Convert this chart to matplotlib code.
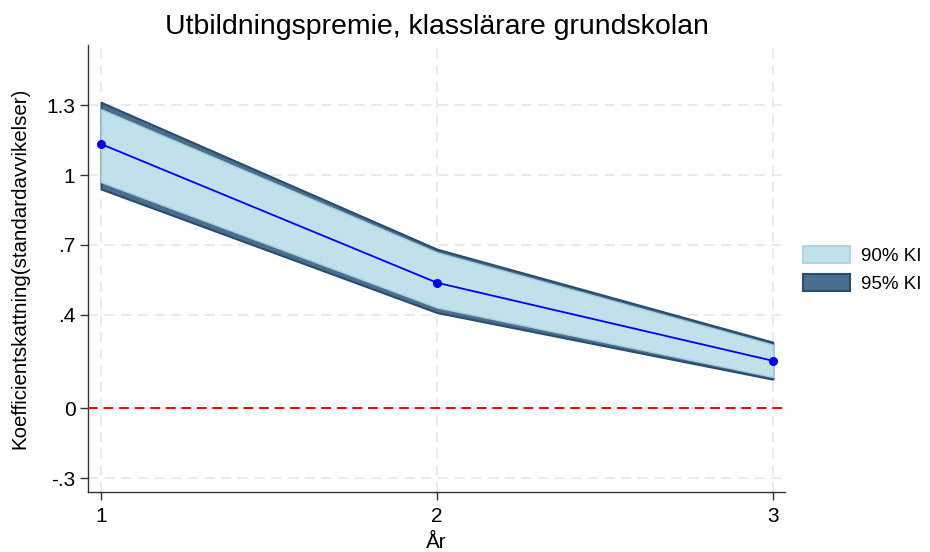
import numpy as np
import matplotlib.pyplot as plt
from matplotlib.patches import Patch

plt.rcParams['font.family'] = ['Liberation Sans', 'DejaVu Sans']

# estimates per year with 90% and 95% confidence bounds
years = [1, 2, 3]
coef = [1.133, 0.538, 0.203]
ci95_lo = [0.94, 0.41, 0.124]
ci95_hi = [1.312, 0.682, 0.283]
ci90_lo = [0.97, 0.432, 0.134]
ci90_hi = [1.282, 0.668, 0.272]

yticks = [-0.3, 0, 0.4, 0.7, 1, 1.3]
yticklabels = ["-.3", "0", ".4", ".7", "1", "1.3"]

dark_fill = "#4a6e8e"
dark_edge = "#2c4c6c"
light_fill = "#c0e0ea"
light_edge = "#a6d2e2"

fig = plt.figure(figsize=(9.3, 5.52), dpi=100)
ax = fig.add_axes([0.0946, 0.1087, 0.7494, 0.8098])

for y in yticks:
    ax.axhline(y, color="#e6e6e6", lw=1.2, ls=(0, (6, 4)), zorder=0)
for x in years:
    ax.axvline(x, color="#e6e6e6", lw=1.2, ls=(0, (6, 4)), zorder=0)

ax.fill_between(years, ci95_lo, ci95_hi, facecolor=dark_fill, edgecolor=dark_edge, lw=1.5, zorder=2)
ax.fill_between(years, ci90_lo, ci90_hi, facecolor=light_fill, edgecolor=light_edge, lw=1.0, zorder=3)
ax.plot(years, coef, color="blue", lw=1.3, marker="o", ms=5.5, zorder=4)
ax.axhline(0, color="red", lw=1.4, ls=(0, (5, 3)), zorder=3)

ax.set_xlim(0.961, 3.036)
ax.set_ylim(-0.36, 1.558)
ax.set_xticks(years)
ax.set_xticklabels([str(y) for y in years])
ax.set_yticks(yticks)
ax.set_yticklabels(yticklabels)
ax.tick_params(axis="both", labelsize=15, length=6, width=1, color="#333333", direction="out")
ax.tick_params(axis="x", pad=5)
ax.tick_params(axis="y", pad=3)
for side in ["top", "right"]:
    ax.spines[side].set_visible(False)
for side in ["left", "bottom"]:
    ax.spines[side].set_color("#333333")
    ax.spines[side].set_linewidth(1.0)

ax.set_xlabel("År", fontsize=14.8, labelpad=5)
ax.set_ylabel("Koefficientskattning(standardavvikelser)", fontsize=14.8, labelpad=12)
ax.set_title("Utbildningspremie, klasslärare grundskolan", fontsize=20.5, pad=8)

handles = [
    Patch(facecolor=light_fill, edgecolor=light_edge, lw=1.2, label="90% KI"),
    Patch(facecolor=dark_fill, edgecolor=dark_edge, lw=1.5, label="95% KI"),
]
fig.legend(handles=handles, loc="center left", bbox_to_anchor=(0.845, 0.512),
           frameon=False, fontsize=13.5, handlelength=2.5, handleheight=1.05,
           handletextpad=0.6, labelspacing=0.5)

fig.savefig("out.png", dpi=100)
